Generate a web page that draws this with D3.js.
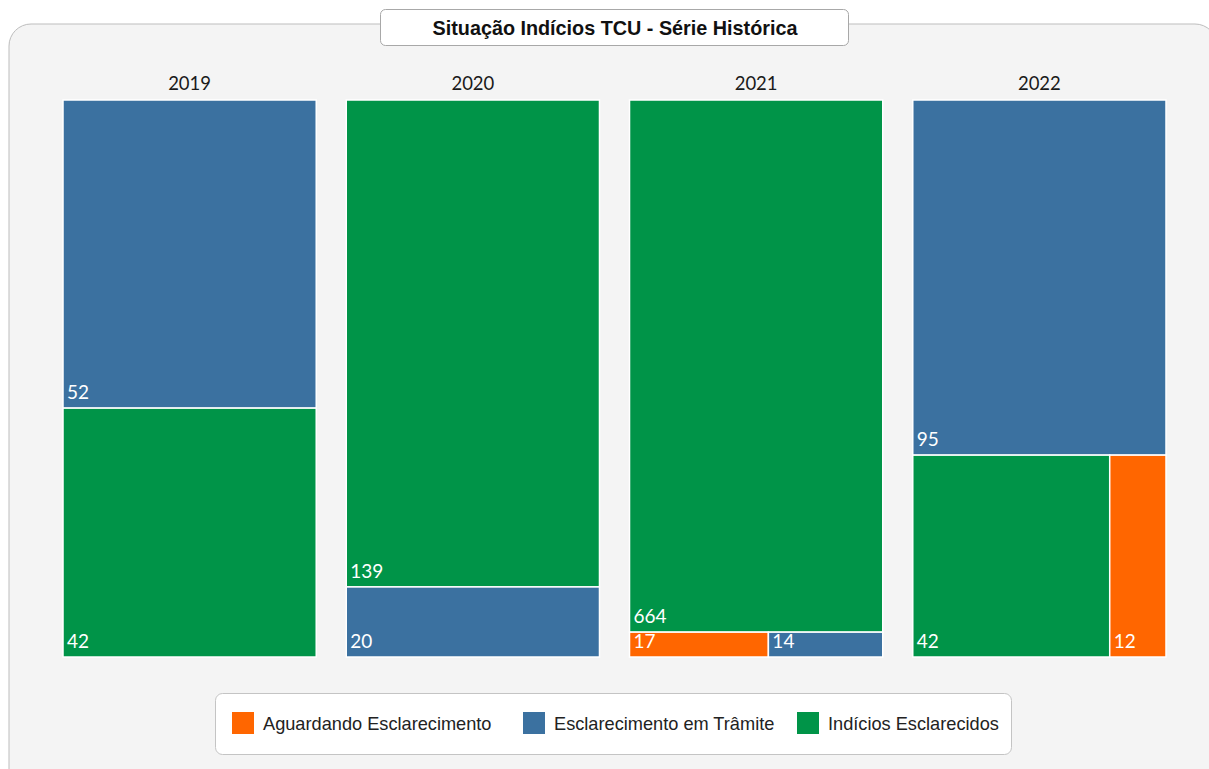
<!DOCTYPE html>
<html>
<head>
<meta charset="utf-8">
<script src="https://cdn.jsdelivr.net/npm/d3@7"></script>
<style>
  body { margin: 0; background: #fff; }
  svg { display: block; }
</style>
</head>
<body>
<svg id="chart" width="1209" height="769"></svg>
<script>
const years = ["2019", "2020", "2021", "2022"];
const categories = ["Aguardando Esclarecimento", "Esclarecimento em Trâmite", "Indícios Esclarecidos"];
const aguardando = [0, 0, 17, 12];
const emTramite = [52, 20, 14, 95];
const esclarecidos = [42, 139, 664, 42];
const colors = ["#ff6600", "#3b71a0", "#009448"];

let svg = d3.select('#chart');

// outer panel
svg.append('rect')
    .attr('x', 9).attr('y', 24)
    .attr('width', 1208).attr('height', 770)
    .attr('rx', 22)
    .style('fill', '#f4f4f4')
    .style('stroke', '#bdbdbd');

// title box
svg.append('rect')
    .attr('x', 380.5).attr('y', 9.5)
    .attr('width', 468).attr('height', 36)
    .attr('rx', 5)
    .style('fill', '#fff')
    .style('stroke', '#a8a8a8');
svg.append('text')
    .attr('x', 615).attr('y', 35)
    .attr('text-anchor', 'middle')
    .style('font-family', 'Liberation Sans, Arial, sans-serif')
    .style('font-weight', 'bold')
    .style('font-size', '19.8px')
    .style('fill', '#111')
    .text('Situação Indícios TCU - Série Histórica');

let xBand = d3.scaleBand()
    .domain(years)
    .range([63, 1166])
    .paddingInner(0.106);

let plotTop = 100, plotBottom = 657;
let color = d3.scaleOrdinal().domain(categories).range(colors);

let seriesByCat = [aguardando, emTramite, esclarecidos];

years.forEach(function (year, i) {
    let g = svg.append('g')
        .attr('transform', `translate(${xBand(year)}, ${plotTop})`);

    g.append('text')
        .attr('x', xBand.bandwidth() / 2)
        .attr('y', -10)
        .attr('text-anchor', 'middle')
        .style('font-family', 'Lato, sans-serif')
        .style('font-size', '18.5px')
        .style('fill', '#1a1a1a')
        .text(year);

    let children = categories.map(function (c, k) {
        return {name: c, value: seriesByCat[k][i]};
    }).filter(function (d) { return d.value > 0; });

    let root = d3.hierarchy({name: year, children: children})
        .sum(function (d) { return d.value || 0; })
        .sort(function (a, b) { return b.value - a.value; });

    d3.treemap()
        .size([xBand.bandwidth(), plotBottom - plotTop])
        .tile(d3.treemapSquarify)(root);

    let cells = g.selectAll('.cell')
        .data(root.leaves())
        .enter()
        .append('g')
        .attr('class', 'cell');

    cells.append('rect')
        .attr('x', function (d) { return d.x0; })
        .attr('y', function (d) { return d.y0; })
        .attr('width', function (d) { return d.x1 - d.x0; })
        .attr('height', function (d) { return d.y1 - d.y0; })
        .style('fill', function (d) { return color(d.data.name); })
        .style('stroke', '#fff')
        .style('stroke-width', 1.5);

    cells.append('text')
        .attr('x', function (d) { return d.x0 + 4; })
        .attr('y', function (d) { return d.y1 - 9; })
        .style('font-family', 'Lato, sans-serif')
        .style('font-size', '19px')
        .style('fill', '#fff')
        .text(function (d) { return d.data.value; });
});

// legend
svg.append('rect')
    .attr('x', 215.5).attr('y', 693.5)
    .attr('width', 796).attr('height', 61)
    .attr('rx', 7)
    .style('fill', '#fff')
    .style('stroke', '#c4c4c4');

let legendX = [232, 523, 797];
let legend = svg.selectAll('.legend')
    .data(categories)
    .enter()
    .append('g')
    .attr('class', 'legend')
    .attr('transform', function (d, i) { return `translate(${legendX[i]}, 712)`; });

legend.append('rect')
    .attr('width', 22).attr('height', 22)
    .style('fill', function (d) { return color(d); });

legend.append('text')
    .attr('x', 31).attr('y', 18)
    .style('font-family', 'Liberation Sans, Arial, sans-serif')
    .style('font-size', '18.2px')
    .style('fill', '#222')
    .text(function (d) { return d; });
</script>
</body>
</html>
